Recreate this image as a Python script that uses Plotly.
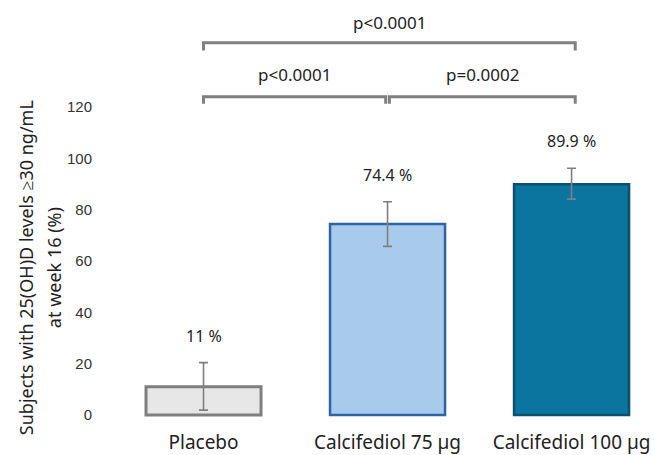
import plotly.graph_objects as go

# ---- data ----
categories = ["Placebo", "Calcifediol 75 µg", "Calcifediol 100 µg"]
values = [11.0, 74.4, 89.9]
err_plus = [9.4, 8.7, 6.2]
err_minus = [9.1, 8.7, 5.8]
value_labels = ["11 %", "74.4 %", "89.9 %"]
y_ticks = [0, 20, 40, 60, 80, 100, 120]
comparisons = [(0, 2, "p<0.0001"), (0, 1, "p<0.0001"), (1, 2, "p=0.0002")]
y_title_lines = ["Subjects with 25(OH)D levels ≥30 ng/mL", "at week 16 (%)"]

# ---- styles ----
fill_colors = ["#E7E7E7", "#A8CAEB", "#0C759F"]
line_colors = ["#7F7F7F", "#2E64A6", "#0B5070"]
line_widths = [3, 2.5, 2.5]
bracket_levels = [(145, 142), (124, 121.3), (124, 121.3)]
title_xshifts = [-74, -46]
text_font = "Noto Sans"

x_idx = list(range(len(categories)))

fig = go.Figure()
fig.add_trace(go.Bar(
    x=x_idx, y=values,
    width=0.625,
    marker=dict(color=fill_colors, line=dict(color=line_colors, width=line_widths)),
    error_y=dict(type="data", symmetric=False, array=err_plus, arrayminus=err_minus,
                 color="#7F7F7F", thickness=1.6, width=4.5),
    showlegend=False, hoverinfo="skip",
))

annotations = []
for i, (v, ep, lab) in enumerate(zip(values, err_plus, value_labels)):
    annotations.append(dict(x=i, y=v + ep, xref="x", yref="y", text=lab, showarrow=False,
                            yanchor="middle", yshift=27,
                            font=dict(family=text_font, size=16, color="#222")))

shapes = []
for (a, b, lab), (top, foot) in zip(comparisons, bracket_levels):
    xa = a + (0.01 if a == 1 else 0)
    xb = b + (0.02 if b == 2 else -0.01)
    shapes.append(dict(type="path", xref="x", yref="y",
                       path=f"M {xa} {foot} L {xa} {top} L {xb} {top} L {xb} {foot}",
                       line=dict(color="#808080", width=3)))
    annotations.append(dict(x=(xa + xb) / 2, y=top, xref="x", yref="y", text=lab,
                            showarrow=False, yanchor="middle", yshift=20 if top > 130 else 22,
                            font=dict(family=text_font, size=17, color="#222")))

for line, xs in zip(y_title_lines, title_xshifts):
    annotations.append(dict(xref="paper", yref="paper", x=0, y=0.357, xshift=xs,
                            text=line, textangle=-90, showarrow=False,
                            xanchor="center", yanchor="middle",
                            font=dict(family=text_font, size=18, color="#222")))

fig.update_layout(
    width=654, height=455,
    margin=dict(l=100, r=0, t=0, b=38),
    paper_bgcolor="white", plot_bgcolor="white",
    shapes=shapes, annotations=annotations,
    xaxis=dict(range=[-0.5625, 2.448], tickvals=x_idx, ticktext=categories,
               showgrid=False, zeroline=False, showline=False, ticks="",
               ticklabelstandoff=12,
               tickfont=dict(family=text_font, size=19, color="#222")),
    yaxis=dict(range=[-0.78, 161.67], tickvals=y_ticks, showgrid=False, zeroline=False,
               showline=False, ticks="", ticklabelstandoff=7,
               tickfont=dict(family="Liberation Sans", size=15, color="#333")),
)

fig.write_html("out.html", config={"displayModeBar": False},
               post_script="document.body.style.margin='0';")
